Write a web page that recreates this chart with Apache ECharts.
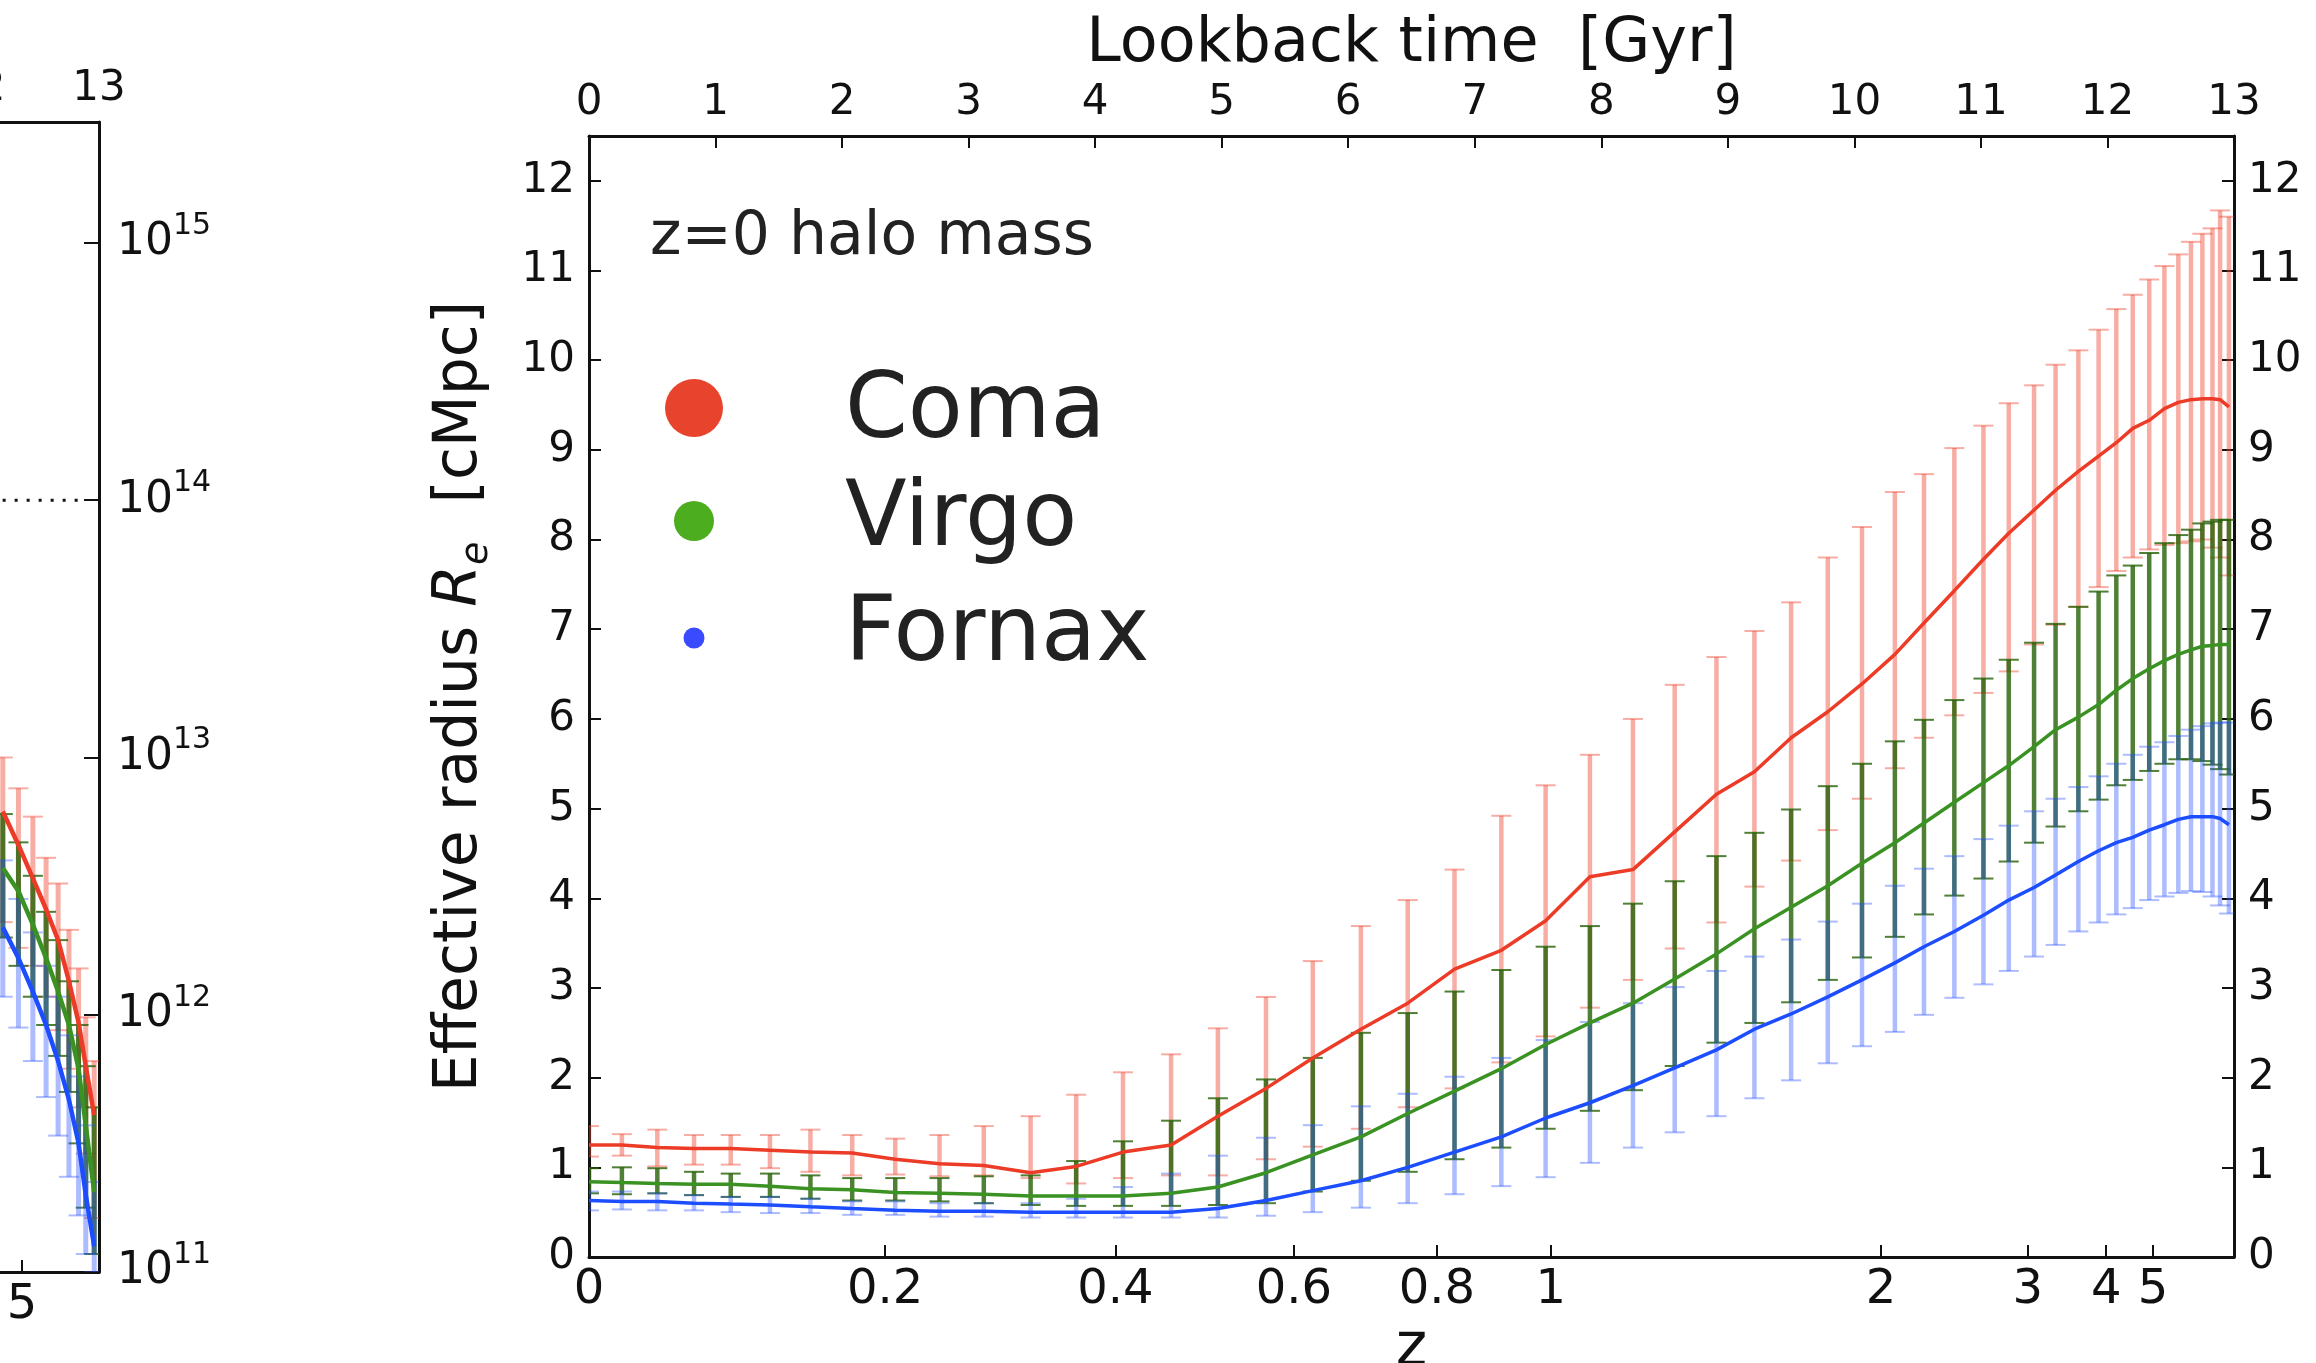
<!DOCTYPE html>
<html><head><meta charset="utf-8">
<script src="https://cdn.jsdelivr.net/npm/echarts@6/dist/echarts.min.js"></script>
<style>html,body{margin:0;padding:0;background:#fff}#c{width:2316px;height:1363px}</style>
</head><body><div id="c"></div>
<script>
// ---------------- DATA ----------------
const groupNames = ['Coma', 'Virgo', 'Fornax'];
// snapshot positions (lookback time, Gyr)
const lookback = [0, 0.26, 0.54, 0.83, 1.12, 1.43, 1.75, 2.08, 2.42, 2.77, 3.12, 3.49, 3.85, 4.22, 4.60, 4.97,
  5.35, 5.72, 6.10, 6.47, 6.84, 7.21, 7.56, 7.91, 8.25, 8.58, 8.91, 9.21,
  9.50, 9.79, 10.06, 10.32, 10.55, 10.79, 11.02, 11.22, 11.42, 11.59, 11.77, 11.93, 12.07, 12.20, 12.33, 12.45, 12.56, 12.66, 12.75, 12.83, 12.89, 12.96];
// effective radius [cMpc]
const comaRe = [1.25, 1.25, 1.22, 1.21, 1.21, 1.19, 1.17, 1.16, 1.09, 1.04, 1.02, 0.94, 1.01, 1.17, 1.25, 1.57,
  1.88, 2.22, 2.54, 2.83, 3.21, 3.42, 3.75, 4.24, 4.32, 4.74, 5.16, 5.41,
  5.79, 6.08, 6.39, 6.72, 7.07, 7.43, 7.78, 8.07, 8.33, 8.55, 8.76, 8.93, 9.08, 9.24, 9.33, 9.46, 9.53, 9.56, 9.57, 9.57, 9.56, 9.48];
const comaReHi = [1.46, 1.37, 1.42, 1.36, 1.36, 1.36, 1.42, 1.36, 1.32, 1.36, 1.46, 1.57, 1.81, 2.06, 2.26, 2.55,
  2.90, 3.30, 3.69, 3.98, 4.32, 4.92, 5.26, 5.60, 6.00, 6.38, 6.69, 6.98,
  7.30, 7.80, 8.14, 8.53, 8.73, 9.02, 9.27, 9.52, 9.72, 9.95, 10.11, 10.34, 10.57, 10.73, 10.90, 11.05, 11.18, 11.32, 11.41, 11.47, 11.67, 11.60];
const comaReLo = [1.12, 1.13, 1.01, 1.03, 1.03, 0.99, 0.95, 0.91, 0.92, 0.90, 0.91, 0.88, 0.82, 0.88, 0.91, 0.91,
  1.09, 1.23, 1.43, 1.67, 1.88, 2.17, 2.46, 2.78, 3.09, 3.44, 3.73, 4.13,
  4.42, 4.76, 5.11, 5.45, 5.79, 6.04, 6.29, 6.53, 6.83, 7.05, 7.25, 7.47, 7.65, 7.80, 7.89, 7.94, 7.96, 7.98, 8.00, 7.91, 7.80, 7.60];
const virgoRe = [0.84, 0.83, 0.82, 0.81, 0.81, 0.79, 0.76, 0.75, 0.72, 0.71, 0.70, 0.68, 0.68, 0.68, 0.71, 0.78,
  0.94, 1.14, 1.34, 1.60, 1.85, 2.10, 2.37, 2.61, 2.83, 3.10, 3.38, 3.66,
  3.90, 4.14, 4.39, 4.62, 4.84, 5.07, 5.29, 5.48, 5.69, 5.88, 6.02, 6.16, 6.32, 6.45, 6.56, 6.65, 6.72, 6.77, 6.81, 6.82, 6.83, 6.83];
const virgoReHi = [0.99, 1.00, 0.99, 0.95, 0.93, 0.93, 0.91, 0.88, 0.88, 0.88, 0.90, 0.91, 1.07, 1.29, 1.52, 1.77,
  1.98, 2.22, 2.50, 2.72, 2.96, 3.20, 3.46, 3.69, 3.94, 4.19, 4.47, 4.73,
  4.99, 5.25, 5.50, 5.75, 5.99, 6.21, 6.45, 6.66, 6.85, 7.06, 7.25, 7.42, 7.60, 7.71, 7.85, 7.96, 8.05, 8.11, 8.18, 8.20, 8.22, 8.22];
const virgoReLo = [0.71, 0.70, 0.71, 0.69, 0.67, 0.67, 0.65, 0.63, 0.63, 0.62, 0.60, 0.58, 0.57, 0.57, 0.57, 0.58,
  0.60, 0.73, 0.85, 0.95, 1.09, 1.22, 1.43, 1.63, 1.86, 2.13, 2.39, 2.61,
  2.84, 3.09, 3.34, 3.57, 3.82, 4.03, 4.22, 4.41, 4.62, 4.80, 4.97, 5.10, 5.26, 5.32, 5.42, 5.50, 5.55, 5.55, 5.53, 5.49, 5.44, 5.38];
const fornaxRe = [0.63, 0.62, 0.62, 0.60, 0.59, 0.58, 0.56, 0.54, 0.52, 0.51, 0.51, 0.50, 0.50, 0.50, 0.50, 0.54,
  0.63, 0.74, 0.85, 1.00, 1.17, 1.34, 1.55, 1.72, 1.91, 2.11, 2.31, 2.54,
  2.71, 2.90, 3.09, 3.28, 3.46, 3.63, 3.81, 3.98, 4.12, 4.26, 4.41, 4.53, 4.62, 4.68, 4.76, 4.82, 4.88, 4.91, 4.91, 4.91, 4.89, 4.82];
const fornaxReHi = [0.73, 0.73, 0.71, 0.69, 0.67, 0.67, 0.65, 0.62, 0.62, 0.60, 0.60, 0.60, 0.65, 0.78, 0.93, 1.13,
  1.33, 1.47, 1.68, 1.82, 2.01, 2.22, 2.42, 2.62, 2.83, 3.01, 3.19, 3.35,
  3.54, 3.74, 3.94, 4.14, 4.33, 4.47, 4.66, 4.81, 4.97, 5.11, 5.24, 5.36, 5.50, 5.60, 5.69, 5.74, 5.81, 5.88, 5.92, 5.95, 5.96, 5.96];
const fornaxReLo = [0.52, 0.53, 0.52, 0.52, 0.50, 0.49, 0.49, 0.47, 0.47, 0.45, 0.45, 0.44, 0.44, 0.44, 0.44, 0.44,
  0.46, 0.50, 0.55, 0.60, 0.70, 0.79, 0.89, 1.05, 1.22, 1.39, 1.57, 1.77,
  1.97, 2.16, 2.35, 2.51, 2.70, 2.89, 3.04, 3.19, 3.35, 3.48, 3.63, 3.73, 3.82, 3.89, 3.98, 4.02, 4.06, 4.08, 4.07, 4.02, 3.92, 3.83];

// left (cut-off) panel: halo mass, log10 M, visible tail only
const massLookback = [12.20, 12.33, 12.45, 12.56, 12.66, 12.75, 12.83, 12.89, 12.96];
const comaLogM   = [12.79, 12.66, 12.53, 12.41, 12.29, 12.13, 11.97, 11.80, 11.61];
const comaLogMHi = [13.00, 12.88, 12.77, 12.61, 12.51, 12.33, 12.18, 11.99, 11.82];
const comaLogMLo = [12.36, 12.26, 12.19, 12.07, 11.94, 11.79, 11.64, 11.46, 11.21];
const virgoLogM   = [12.57, 12.48, 12.35, 12.22, 12.09, 11.96, 11.79, 11.57, 11.31];
const virgoLogMHi = [12.78, 12.67, 12.54, 12.40, 12.29, 12.13, 11.96, 11.80, 11.64];
const virgoLogMLo = [12.30, 12.19, 12.07, 11.96, 11.84, 11.70, 11.50, 11.25, 11.07];
const fornaxLogM   = [12.34, 12.22, 12.09, 11.96, 11.82, 11.67, 11.50, 11.30, 11.10];
const fornaxLogMHi = [12.60, 12.45, 12.32, 12.19, 12.07, 11.92, 11.76, 11.57, 11.35];
const fornaxLogMLo = [12.07, 11.95, 11.82, 11.68, 11.53, 11.37, 11.22, 11.07, 11.00];
const thresholdLogM = 14;
const thresholdLookback = [11.5, 12.84];

// tick labels
const zTickLabels = ['0', '0.2', '0.4', '0.6', '0.8', '1', '2', '3', '4', '5'];
const zTickLookback = [0, 2.34, 4.16, 5.57, 6.70, 7.60, 10.21, 11.37, 11.99, 12.36];
const radiusTicks = [0, 1, 2, 3, 4, 5, 6, 7, 8, 9, 10, 11, 12];
const massDecades = [11, 12, 13, 14, 15];

// ---------------- STYLE ----------------
const FONT = 'DejaVu Sans';
const INK = '#111';
const COL = {
  Coma:   { line: '#ec3b26', bar: 'rgba(236,59,38,0.42)', dot: '#e8432d', r: 29 },
  Virgo:  { line: '#3a9222', bar: 'rgba(40,100,10,0.82)', dot: '#4cae1e', r: 20 },
  Fornax: { line: '#1c4dff', bar: 'rgba(40,80,255,0.38)', dot: '#3a4bff', r: 10.5 }
};
const G0 = { left: 589, top: 136, width: 1645, height: 1121 };
const G1 = { left: 99 - 1563, top: 122, width: 1563, height: 1150 };
const logMax = 15.47;

function zFormatter(v) {
  for (let i = 0; i < zTickLookback.length; i++) if (Math.abs(v - zTickLookback[i]) < 1e-6) return zTickLabels[i];
  return '';
}
function errBars(color, lw, capW) {
  return function (params, api) {
    const x = api.value(0);
    const a = api.coord([x, api.value(1)]);
    const b = api.coord([x, api.value(2)]);
    const h = capW / 2;
    const st = { stroke: color, lineWidth: lw, fill: null };
    const cs = { stroke: color, lineWidth: 2, fill: null };
    return { type: 'group', children: [
      { type: 'line', shape: { x1: a[0], y1: a[1], x2: b[0], y2: b[1] }, style: st },
      { type: 'line', shape: { x1: a[0] - h, y1: a[1], x2: a[0] + h, y2: a[1] }, style: cs },
      { type: 'line', shape: { x1: b[0] - h, y1: b[1], x2: b[0] + h, y2: b[1] }, style: cs }
    ]};
  };
}
const axLine = { show: true, onZero: false, lineStyle: { color: INK, width: 3 } };
const tickIn = (len, custom) => {
  const o = { show: true, inside: true, length: len, lineStyle: { color: INK, width: 2 } };
  if (custom) o.customValues = custom;
  return o;
};

const radius = { Coma: [comaRe, comaReLo, comaReHi], Virgo: [virgoRe, virgoReLo, virgoReHi], Fornax: [fornaxRe, fornaxReLo, fornaxReHi] };
const mass = { Coma: [comaLogM, comaLogMLo, comaLogMHi], Virgo: [virgoLogM, virgoLogMLo, virgoLogMHi], Fornax: [fornaxLogM, fornaxLogMLo, fornaxLogMHi] };

const series = [];
groupNames.forEach((n, k) => {
  series.push({
    type: 'custom', name: n + ' err', xAxisIndex: 0, yAxisIndex: 0, clip: true, z: 2 + k,
    renderItem: errBars(COL[n].bar, 4.5, 20),
    encode: { x: 0, y: [1, 2] },
    data: lookback.map((t, i) => [t, radius[n][1][i], radius[n][2][i]])
  });
});
groupNames.forEach(n => {
  series.push({
    type: 'line', name: n, xAxisIndex: 0, yAxisIndex: 0, z: 6, showSymbol: false, symbol: 'none',
    lineStyle: { color: COL[n].line, width: 3.5 }, itemStyle: { color: COL[n].line },
    data: lookback.map((t, i) => [t, radius[n][0][i]])
  });
});
groupNames.forEach((n, k) => {
  series.push({
    type: 'custom', name: n + ' mass err', xAxisIndex: 2, yAxisIndex: 2, clip: true, z: 2 + k,
    renderItem: errBars(COL[n].bar, 5, 20),
    encode: { x: 0, y: [1, 2] },
    data: massLookback.map((t, i) => [t, Math.pow(10, mass[n][1][i]), Math.pow(10, mass[n][2][i])])
  });
});
groupNames.forEach(n => {
  series.push({
    type: 'line', name: n + ' mass', xAxisIndex: 2, yAxisIndex: 2, z: 6, showSymbol: false, symbol: 'none',
    lineStyle: { color: COL[n].line, width: 4.5 }, itemStyle: { color: COL[n].line },
    data: massLookback.map((t, i) => [t, Math.pow(10, mass[n][0][i])])
  });
});
series.push({
  type: 'line', name: 'threshold', xAxisIndex: 2, yAxisIndex: 2, z: 7, showSymbol: false, symbol: 'none',
  lineStyle: { color: INK, width: 3, type: [3, 9] },
  data: thresholdLookback.map(t => [t, Math.pow(10, thresholdLogM)])
});

// minor log ticks (in log10 space)
const minorLog = [];
massDecades.forEach(d => { for (let k = 2; k <= 9; k++) { const v = d + Math.log10(k); if (v < logMax) minorLog.push(v); } });

const legendGraphic = [
  { type: 'text', z: 100, style: { x: 650, y: 238, text: 'z=0 halo mass', font: '60px "DejaVu Sans"', fill: '#222', textAlign: 'left', textVerticalAlign: 'middle', align: 'left', verticalAlign: 'middle' } }
];
const legY = [408, 521, 638], legTextY = [414, 522, 637];
groupNames.forEach((n, k) => {
  legendGraphic.push({ type: 'circle', z: 100, shape: { cx: 694, cy: legY[k], r: COL[n].r }, style: { fill: COL[n].dot } });
  legendGraphic.push({ type: 'text', z: 100, style: { x: 845, y: legTextY[k], text: n, font: '90px "DejaVu Sans"', fill: '#222', textAlign: 'left', textVerticalAlign: 'middle', align: 'left', verticalAlign: 'middle' } });
});

const option = {
  backgroundColor: '#fff',
  animation: false,
  textStyle: { fontFamily: FONT },
  grid: [
    Object.assign({ containLabel: false, outerBoundsMode: 'none' }, G0),
    Object.assign({ containLabel: false, outerBoundsMode: 'none' }, G1),
    Object.assign({ containLabel: false, outerBoundsMode: 'none' }, G1)
  ],
  xAxis: [
    { gridIndex: 0, type: 'value', position: 'bottom', min: 0, max: 13,
      axisLine: axLine, axisTick: tickIn(12, zTickLookback), splitLine: { show: false },
      axisLabel: { customValues: zTickLookback, formatter: zFormatter, margin: 10, fontSize: 48, color: INK, fontFamily: FONT },
      name: 'z', nameLocation: 'middle', nameGap: 50, nameTextStyle: { fontSize: 60, color: INK, fontFamily: FONT } },
    { gridIndex: 0, type: 'value', position: 'top', min: 0, max: 13, interval: 1,
      axisLine: axLine, axisTick: tickIn(12), splitLine: { show: false },
      axisLabel: { margin: 12, fontSize: 42, color: INK, fontFamily: FONT },
      name: 'Lookback time  [Gyr]', nameLocation: 'middle', nameGap: 60, nameTextStyle: { fontSize: 62, color: INK, fontFamily: FONT } },
    { gridIndex: 1, type: 'value', position: 'bottom', min: 0, max: 13,
      axisLine: axLine, axisTick: tickIn(12, zTickLookback), splitLine: { show: false },
      axisLabel: { customValues: zTickLookback, formatter: zFormatter, margin: 10, fontSize: 48, color: INK, fontFamily: FONT } },
    { gridIndex: 1, type: 'value', position: 'top', min: 0, max: 13, interval: 1,
      axisLine: axLine, axisTick: tickIn(12), splitLine: { show: false },
      axisLabel: { margin: 12, fontSize: 42, color: INK, fontFamily: FONT } },
    { gridIndex: 2, type: 'value', min: 0, max: 13, show: false }
  ],
  yAxis: [
    { gridIndex: 0, type: 'value', position: 'left', min: 0, max: 12.5,
      axisLine: axLine, axisTick: tickIn(12, radiusTicks), splitLine: { show: false },
      axisLabel: { customValues: radiusTicks, margin: 14, fontSize: 42, color: INK, fontFamily: FONT },
      name: 'Effective radius {it|R}{sub|e}  [cMpc]', nameLocation: 'middle', nameGap: 93, nameRotate: 90,
      nameTextStyle: { fontSize: 60, color: INK, fontFamily: FONT, lineHeight: 72,
        rich: { it: { fontSize: 60, fontStyle: 'italic', fontFamily: FONT, color: INK, lineHeight: 72 },
                sub: { fontSize: 38, fontStyle: 'italic', fontFamily: FONT, color: INK, verticalAlign: 'bottom', lineHeight: 72 } } } },
    { gridIndex: 0, type: 'value', position: 'right', min: 0, max: 12.5,
      axisLine: axLine, axisTick: tickIn(12, radiusTicks), splitLine: { show: false },
      axisLabel: { customValues: radiusTicks, margin: 14, fontSize: 42, color: INK, fontFamily: FONT } },
    { gridIndex: 1, type: 'log', logBase: 10, position: 'right', min: 1e11, max: Math.pow(10, logMax),
      axisLine: axLine, axisTick: tickIn(15), splitLine: { show: false }, minorTick: { show: false },
      axisLabel: { margin: 18, color: INK, fontFamily: FONT, showMinLabel: true, showMaxLabel: true,
        formatter: function (v) {
          const e = Math.log10(v); const r = Math.round(e);
          if (Math.abs(e - r) > 1e-4 || massDecades.indexOf(r) < 0) return '';
          return '{b|10}{s|' + r + '}';
        },
        rich: { b: { fontSize: 44, fontFamily: FONT, color: INK, lineHeight: 64 },
                s: { fontSize: 30, fontFamily: FONT, color: INK, verticalAlign: 'top', lineHeight: 64 } } } },
    { gridIndex: 2, type: 'value', position: 'right', min: 11, max: logMax,
      axisLine: { show: false }, axisTick: tickIn(7, minorLog), axisLabel: { show: false }, splitLine: { show: false } }
  ],
  graphic: legendGraphic,
  series: series
};

const chart = echarts.init(document.getElementById('c'), null, { renderer: 'canvas' });
chart.setOption(option);
</script></body></html>
